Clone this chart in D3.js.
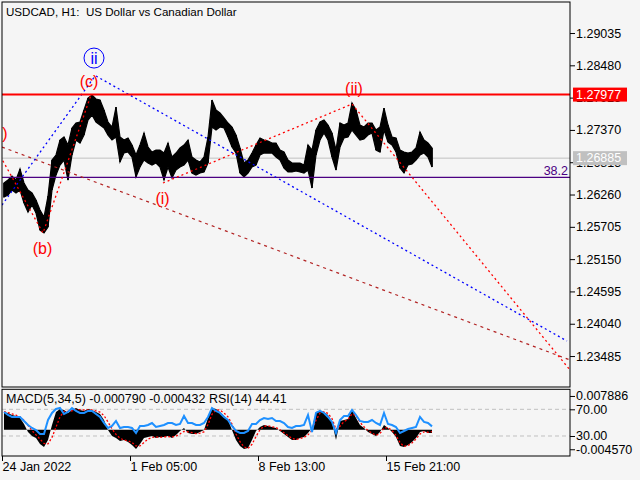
<!DOCTYPE html>
<html><head><meta charset="utf-8">
<script src="https://cdn.jsdelivr.net/npm/d3@7"></script>
<style>
html,body{margin:0;padding:0;background:#f5f5f5;}
svg{display:block;font-family:"Liberation Sans",Arial,sans-serif;}
</style>
</head><body>
<svg id="chart" width="640" height="480"></svg>
<script>
// ---------- DATA ----------
const chartTitle = "USDCAD, H1:  US Dollar vs Canadian Dollar";
const indicatorTitle = "MACD(5,34,5) -0.000790 -0.000432 RSI(14) 44.41";
const dateLabels = ["24 Jan 2022", "1 Feb 05:00", "8 Feb 13:00", "15 Feb 21:00"];
const dateTickBars = [0, 128, 256, 384];           // H1 bar index of each date label
const priceTicks = [1.29035, 1.28480, 1.27925, 1.27370, 1.26815, 1.26260, 1.25705, 1.25150, 1.24595, 1.24040, 1.23485];
const macdTicks = [0.007886, -0.004570];
const rsiTicks = [70, 30];
const barsPerPoint = 4;                             // each point below = 4 H1 bars

const priceHigh = [1.26458,1.26509,1.26578,1.26509,1.26698,1.26458,1.26337,1.26286,1.26166,1.25994,
 1.25873,1.26234,1.26853,1.26939,1.27197,1.27248,1.27111,1.27403,1.27489,1.27506,
 1.27712,1.27918,1.27970,1.27901,1.27884,1.27712,1.27506,1.27420,1.27764,1.27248,
 1.27197,1.27231,1.27111,1.26939,1.27111,1.27317,1.27076,1.26990,1.27025,1.27025,
 1.26973,1.27145,1.26904,1.26973,1.27059,1.27111,1.27197,1.26904,1.26853,1.26819,
 1.26904,1.27248,1.27884,1.27712,1.27660,1.27575,1.27489,1.27420,1.27282,1.27059,
 1.26801,1.26853,1.26973,1.27111,1.27231,1.27197,1.27179,1.27145,1.27145,1.27025,
 1.26990,1.26853,1.26801,1.26801,1.26801,1.26767,1.27111,1.27025,1.27368,1.27506,
 1.27540,1.27454,1.27317,1.27025,1.27489,1.27454,1.27489,1.27832,1.27712,1.27454,
 1.27420,1.27489,1.27489,1.27368,1.27420,1.27746,1.27454,1.27248,1.27231,1.27025,
 1.26990,1.26973,1.26990,1.27059,1.27334,1.27197,1.27145,1.27059];
const priceLow = [1.26217,1.26252,1.26337,1.26286,1.26337,1.26114,1.25959,1.26080,1.25942,1.25650,
 1.25599,1.25702,1.26337,1.26595,1.26767,1.26853,1.26509,1.26939,1.27197,1.27145,
 1.27282,1.27540,1.27626,1.27506,1.27454,1.27403,1.27282,1.27197,1.27248,1.26819,
 1.26973,1.26990,1.26904,1.26561,1.26733,1.26853,1.26801,1.26767,1.26801,1.26733,
 1.26509,1.26733,1.26544,1.26681,1.26733,1.26767,1.26853,1.26630,1.26595,1.26630,
 1.26647,1.26801,1.27420,1.27368,1.27420,1.27403,1.27248,1.27076,1.26973,1.26630,
 1.26561,1.26630,1.26733,1.26767,1.26939,1.26973,1.26973,1.26973,1.26904,1.26853,
 1.26715,1.26647,1.26647,1.26664,1.26647,1.26630,1.26681,1.26372,1.26939,1.27197,
 1.27317,1.27197,1.26904,1.26681,1.27076,1.27231,1.27248,1.27368,1.27282,1.27197,
 1.27214,1.27282,1.27317,1.27025,1.26990,1.27368,1.27162,1.27111,1.26990,1.26715,
 1.26630,1.26767,1.26784,1.26853,1.26939,1.26973,1.26904,1.26733];

const macdHist = [0.00414,0.00390,0.00344,0.00320,0.00273,0.00133,-0.00054,-0.00147,-0.00194,-0.00334,
 -0.00404,-0.00241,0.00110,0.00414,0.00484,0.00460,0.00390,0.00460,0.00507,0.00460,
 0.00437,0.00484,0.00460,0.00414,0.00367,0.00227,-0.00007,-0.00147,-0.00194,-0.00264,
 -0.00241,-0.00287,-0.00358,-0.00451,-0.00334,-0.00194,-0.00171,-0.00147,-0.00194,-0.00171,
 -0.00171,-0.00147,-0.00194,-0.00124,-0.00030,0.00040,-0.00077,-0.00100,-0.00100,-0.00054,
 -0.00007,0.00273,0.00507,0.00484,0.00414,0.00320,0.00227,-0.00007,-0.00241,-0.00381,
 -0.00451,-0.00428,-0.00241,-0.00030,0.00063,0.00110,0.00087,0.00063,0.00040,-0.00030,
 -0.00100,-0.00171,-0.00241,-0.00241,-0.00194,-0.00171,-0.00077,0.00040,0.00414,0.00437,
 0.00414,0.00344,0.00180,-0.00241,0.00203,0.00227,0.00250,0.00460,0.00273,0.00110,
 0.00040,-0.00054,-0.00100,-0.00147,-0.00054,0.00110,0.00040,-0.00054,-0.00171,-0.00381,
 -0.00404,-0.00358,-0.00287,-0.00194,-0.00054,-0.00030,-0.00077,-0.00079];
const macdSignal = [0.00420,0.00400,0.00370,0.00340,0.00300,0.00220,0.00100,-0.00020,-0.00120,-0.00220,
 -0.00320,-0.00330,-0.00180,0.00060,0.00300,0.00430,0.00430,0.00440,0.00460,0.00470,
 0.00460,0.00460,0.00460,0.00440,0.00410,0.00330,0.00180,0.00020,-0.00110,-0.00200,
 -0.00240,-0.00260,-0.00300,-0.00380,-0.00380,-0.00300,-0.00220,-0.00180,-0.00170,-0.00180,
 -0.00170,-0.00160,-0.00170,-0.00150,-0.00100,-0.00040,-0.00050,-0.00070,-0.00090,-0.00080,
 -0.00050,0.00120,0.00360,0.00460,0.00460,0.00390,0.00300,0.00130,-0.00100,-0.00280,
 -0.00400,-0.00440,-0.00340,-0.00160,0.00000,0.00080,0.00090,0.00070,0.00050,0.00000,
 -0.00070,-0.00140,-0.00200,-0.00230,-0.00210,-0.00180,-0.00120,-0.00020,0.00220,0.00390,
 0.00420,0.00380,0.00260,0.00010,0.00080,0.00190,0.00240,0.00370,0.00330,0.00170,
 0.00070,-0.00020,-0.00080,-0.00130,-0.00090,0.00040,0.00050,-0.00020,-0.00130,-0.00300,
 -0.00390,-0.00370,-0.00310,-0.00220,-0.00100,-0.00050,-0.00060,-0.00043];
const rsiValues = [66,61.5,58.5,58.5,58.5,52.5,46.5,42,39,33,
 33,54,64.5,70.5,72,63,66,72,67.5,64.5,
 64.5,67.5,67.5,63,58.5,49.5,42,45,52.5,42,
 43.5,43.5,42,34.5,45,45,46.5,49.5,43.5,45,
 46.5,49.5,49.5,46.5,48,60,49.5,49.5,46.5,46.5,
 49.5,58.5,72,67.5,64.5,58.5,54,45,37.5,34.5,
 34.5,37.5,48,48,54,57,55.5,57,52.5,52.5,
 49.5,43.5,42,45,45,46.5,61.5,36,64.5,67.5,
 64.5,58.5,51,34.5,54,60,60,69,61.5,52.5,
 51,51,54,49.5,46.5,64.5,48,46.5,43.5,34.5,
 37.5,40.5,42,43.5,58.5,51,49.5,44.41];

// horizontal levels
const resistancePrice = 1.27977;
const bidPrice = 1.26885;
const fiboPrice = 1.26556;
const fiboText = "38.2";

// trend / wave lines : [bar index, price]
const blueTrendUp = [[0, 1.26080], [93, 1.28296]];
const blueTrendDown = [[94, 1.28296], [565, 1.23743]];
const waveAbc = [[-4, 1.26990], [41, 1.25599], [89, 1.27970]];
const waveI_II = [[161, 1.26458], [350, 1.27815], [568, 1.23245]];
const brownChannel = [[0, 1.27076], [568, 1.23417]];

// wave labels : text, bar, price (baseline)
const waveLabelText = ["(a)", "(b)", "(c)", "(i)", "(ii)"];
const waveLabelBar = [5.5, 40.5, 87, 160.5, 352];
const waveLabelPrice = [1.27221, 1.25245, 1.28114, 1.26104, 1.27994];
const circleLabel = {text: "ii", bar: 92, price: 1.28605};

// ---------- LAYOUT ----------
const L = 2, R = 570, T = 2, B = 387, ST = 389.3, SB = 456;
const svg = d3.select("#chart");
const FS = 12.5;

const x = d3.scaleLinear().domain([0, 568]).range([L, R]);
const y = d3.scaleLinear().domain([1.22953, 1.29568]).range([B, T]);
const yRsi = d3.scaleLinear().domain([0, 100]).range([SB, ST]);
const yMacd = d3.scaleLinear().domain([-0.006146, 0.009441]).range([SB, ST]);

svg.append("rect").attr("width", 640).attr("height", 480).attr("fill", "#f5f5f5");

const defs = svg.append("defs");
defs.append("clipPath").attr("id", "clipMain").append("rect")
  .attr("x", L).attr("y", T).attr("width", R - L).attr("height", B - T);
defs.append("clipPath").attr("id", "clipSub").append("rect")
  .attr("x", L).attr("y", ST).attr("width", R - L).attr("height", SB - ST);

const main = svg.append("g").attr("clip-path", "url(#clipMain)");
const sub = svg.append("g").attr("clip-path", "url(#clipSub)");

// bid line (behind bars)
main.append("line").attr("x1", L).attr("x2", R)
  .attr("y1", y(bidPrice)).attr("y2", y(bidPrice))
  .attr("stroke", "#c0c0c0").attr("stroke-width", 1);

// price bars: high-low range of every point, joined into a band
const idx = d3.range(priceHigh.length);
const xc = i => x(i * barsPerPoint + barsPerPoint / 2);
main.append("path").datum(idx)
  .attr("d", d3.area().x(xc).y0(i => y(priceLow[i])).y1(i => y(priceHigh[i])))
  .attr("fill", "#000").attr("stroke", "#000").attr("stroke-width", 1.2);
main.append("g").selectAll("line").data(idx).join("line")
  .attr("x1", xc).attr("x2", xc)
  .attr("y1", i => y(priceHigh[i])).attr("y2", i => y(priceLow[i]))
  .attr("stroke", "#000").attr("stroke-width", 1.5);

// fibo level
main.append("line").attr("x1", L).attr("x2", R)
  .attr("y1", y(fiboPrice)).attr("y2", y(fiboPrice))
  .attr("stroke", "#4b0082").attr("stroke-width", 1.3);
main.append("text").attr("x", R - 2).attr("y", y(fiboPrice) - 2.5)
  .attr("text-anchor", "end").attr("font-size", FS).attr("fill", "#4b0082").text(fiboText);

const line = d3.line().x(d => x(d[0])).y(d => y(d[1]));
function drawLine(pts, color, dash, w) {
  main.append("path").attr("d", line(pts)).attr("fill", "none")
    .attr("stroke", color).attr("stroke-width", w).attr("stroke-dasharray", dash);
}
drawLine(brownChannel, "#b22222", "3,4", 1.2);
drawLine(blueTrendUp, "#0000ff", "2,3", 1.3);
drawLine(blueTrendDown, "#0000ff", "2,3", 1.3);
drawLine(waveAbc, "#ff0000", "2,3", 1.3);
drawLine(waveI_II, "#ff0000", "2,3", 1.3);

// resistance line
main.append("line").attr("x1", L).attr("x2", R)
  .attr("y1", y(resistancePrice)).attr("y2", y(resistancePrice))
  .attr("stroke", "#ff0000").attr("stroke-width", 2);

// wave labels
main.append("g").selectAll("text").data(waveLabelText).join("text")
  .attr("x", (d, i) => x(waveLabelBar[i]))
  .attr("y", (d, i) => y(waveLabelPrice[i]))
  .attr("text-anchor", (d, i) => i === 0 ? "end" : "middle")
  .attr("font-size", 16).attr("fill", "#ff0000").text(d => d);
main.append("circle").attr("cx", x(circleLabel.bar)).attr("cy", y(circleLabel.price))
  .attr("r", 10).attr("fill", "none").attr("stroke", "#0000ff").attr("stroke-width", 1);
main.append("text").attr("x", x(circleLabel.bar)).attr("y", y(circleLabel.price) + 5.5)
  .attr("text-anchor", "middle").attr("font-size", 16).attr("fill", "#0000ff").text(circleLabel.text);

// ---------- SUB WINDOW ----------
function dash(v) {
  sub.append("line").attr("x1", L).attr("x2", R).attr("y1", yRsi(v)).attr("y2", yRsi(v))
    .attr("stroke", "#c0c0c0").attr("stroke-dasharray", "4,3");
}
rsiTicks.forEach(dash);
sub.append("path").datum(idx)
  .attr("d", d3.area().x(xc).y0(yMacd(0)).y1(i => yMacd(macdHist[i])))
  .attr("fill", "#000");
sub.append("path").datum(idx)
  .attr("d", d3.line().x(xc).y(i => yMacd(macdSignal[i])))
  .attr("fill", "none").attr("stroke", "#ff0000").attr("stroke-width", 1.3).attr("stroke-dasharray", "2,2");
sub.append("path").datum(idx)
  .attr("d", d3.line().x(xc).y(i => yRsi(rsiValues[i])))
  .attr("fill", "none").attr("stroke", "#1e90ff").attr("stroke-width", 2);

// ---------- FRAMES ----------
svg.append("rect").attr("x", L).attr("y", T).attr("width", R - L).attr("height", B - T)
  .attr("fill", "none").attr("stroke", "#000").attr("stroke-width", 1);
svg.append("rect").attr("x", L).attr("y", ST).attr("width", R - L).attr("height", SB - ST)
  .attr("fill", "none").attr("stroke", "#000").attr("stroke-width", 1);

// ---------- AXES ----------
function styleAxis(g) {
  g.select(".domain").remove();
  g.selectAll("line").attr("stroke", "#000");
  g.selectAll("text").attr("font-size", FS).attr("fill", "#000")
    .attr("font-family", '"Liberation Sans",Arial,sans-serif');
}
svg.append("g").attr("transform", `translate(${R},0)`)
  .call(d3.axisRight(y).tickValues(priceTicks).tickSize(5).tickPadding(1).tickFormat(d => d.toFixed(5)))
  .call(styleAxis);
svg.append("g").attr("transform", `translate(${R},0)`)
  .call(d3.axisRight(yMacd).tickValues(macdTicks).tickSize(5).tickPadding(1).tickFormat(d => d.toFixed(6)))
  .call(styleAxis);
svg.append("g").attr("transform", `translate(${R},0)`)
  .call(d3.axisRight(yRsi).tickValues(rsiTicks).tickSize(5).tickPadding(1).tickFormat(d => d.toFixed(2)))
  .call(styleAxis);
svg.append("g").attr("transform", `translate(0,${SB})`)
  .call(d3.axisBottom(x).tickValues(dateTickBars).tickSize(5).tickPadding(1).tickFormat((d, i) => dateLabels[i]))
  .call(styleAxis)
  .selectAll("text").attr("text-anchor", "start");

// price tags
function tag(price, color) {
  const g = svg.append("g");
  g.append("rect").attr("x", R + 3).attr("y", y(price) - 7).attr("width", 54).attr("height", 14).attr("fill", color);
  g.append("text").attr("x", R + 6).attr("y", y(price)).attr("dy", "0.32em")
    .attr("font-size", FS).attr("fill", "#fff").text(price.toFixed(5));
}
tag(resistancePrice, "#ff0000");
tag(bidPrice, "#c0c0c0");

// titles
svg.append("text").attr("x", 6).attr("y", 16).attr("font-size", 11.6).attr("fill", "#000")
  .attr("xml:space", "preserve").style("white-space", "pre").text(chartTitle);
svg.append("text").attr("x", 6).attr("y", 402.5).attr("font-size", FS).attr("fill", "#000").text(indicatorTitle);
</script>
</body></html>
